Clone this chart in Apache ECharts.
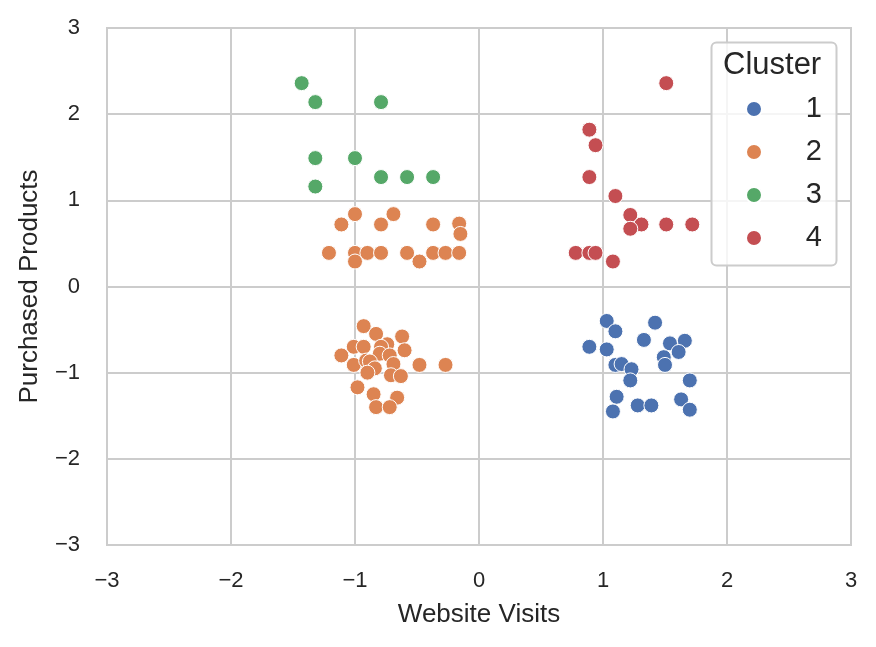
<!DOCTYPE html>
<html>
<head>
<meta charset="utf-8">
<script src="https://cdn.jsdelivr.net/npm/echarts@6/dist/echarts.min.js"></script>
<style>
  html, body { margin: 0; padding: 0; background: #fff; }
  #main { width: 876px; height: 647px; }
</style>
</head>
<body>
<div id="main"></div>
<script>
// cluster points: [website visits, purchased products]
var cluster1 = [
  [1.03, -0.40], [1.42, -0.42], [1.10, -0.52], [1.33, -0.62], [1.54, -0.66],
  [1.66, -0.63], [0.89, -0.70], [1.03, -0.73], [1.61, -0.76], [1.49, -0.82],
  [1.10, -0.91], [1.15, -0.90], [1.23, -0.96], [1.50, -0.91], [1.22, -1.09],
  [1.70, -1.09], [1.11, -1.28], [1.63, -1.31], [1.28, -1.38], [1.39, -1.38],
  [1.08, -1.45], [1.70, -1.43]
];
var cluster2 = [
  [-1.00, 0.84], [-0.69, 0.84], [-1.11, 0.72], [-0.79, 0.72], [-0.37, 0.72],
  [-0.16, 0.73], [-0.15, 0.61], [-1.21, 0.39], [-1.00, 0.39], [-1.00, 0.29],
  [-0.90, 0.39], [-0.79, 0.39], [-0.58, 0.39], [-0.48, 0.29], [-0.37, 0.39],
  [-0.27, 0.39], [-0.16, 0.39],
  [-0.93, -0.46], [-0.83, -0.55], [-0.62, -0.58], [-1.01, -0.70], [-0.93, -0.70],
  [-0.74, -0.67], [-0.79, -0.70], [-0.60, -0.74], [-1.11, -0.80], [-0.80, -0.78],
  [-0.72, -0.80], [-1.01, -0.91], [-0.91, -0.86], [-0.88, -0.87], [-0.84, -0.95],
  [-0.69, -0.90], [-0.48, -0.91], [-0.27, -0.91], [-0.90, -1.00], [-0.71, -1.03],
  [-0.63, -1.04], [-0.98, -1.17], [-0.85, -1.25], [-0.66, -1.29], [-0.83, -1.40],
  [-0.72, -1.40]
];
var cluster3 = [
  [-1.43, 2.36], [-1.32, 2.14], [-0.79, 2.14], [-1.32, 1.49], [-1.00, 1.49],
  [-0.79, 1.27], [-0.58, 1.27], [-0.37, 1.27], [-1.32, 1.16]
];
var cluster4 = [
  [1.51, 2.36], [0.89, 1.82], [0.94, 1.64], [0.89, 1.27], [1.10, 1.05],
  [1.22, 0.83], [1.31, 0.72], [1.22, 0.67], [1.51, 0.72], [1.72, 0.72],
  [0.78, 0.39], [0.89, 0.39], [0.94, 0.39], [1.08, 0.29]
];
var clusterNames = ['1', '2', '3', '4'];
var clusterColors = ['#4C72B0', '#DD8452', '#55A868', '#C44E52'];
var clusterData = [cluster1, cluster2, cluster3, cluster4];
var axisTicks = [-3, -2, -1, 0, 1, 2, 3];

var chart = echarts.init(document.getElementById('main'));
var fontFam = 'Arial, "Liberation Sans", "DejaVu Sans", sans-serif';

function tickFmt(v) {
  return v < 0 ? '\u2212' + Math.abs(v) : String(v);
}

var axisCommon = {
  min: axisTicks[0],
  max: axisTicks[axisTicks.length - 1],
  interval: 1,
  axisLine: { show: true, lineStyle: { color: '#cccccc', width: 2 } },
  axisTick: { show: false },
  splitLine: { show: true, lineStyle: { color: '#cccccc', width: 2 } },
  nameTextStyle: { color: '#262626', fontSize: 26, fontFamily: fontFam },
  axisLabel: { color: '#262626', fontSize: 22, fontFamily: fontFam, formatter: tickFmt }
};

var series = clusterNames.map(function (n, i) {
  return {
    name: n,
    type: 'scatter',
    symbol: 'circle',
    symbolSize: 15,
    itemStyle: { color: clusterColors[i], borderColor: '#ffffff', borderWidth: 1, opacity: 1 },
    data: clusterData[i],
    z: 2
  };
});

chart.setOption({
  animation: false,
  backgroundColor: '#ffffff',
  grid: {
    left: 107, right: 25, top: 28, bottom: 102,
    outerBoundsMode: 'none',
    show: true, borderColor: '#cccccc', borderWidth: 2
  },
  xAxis: Object.assign({}, axisCommon, {
    type: 'value',
    name: 'Website Visits',
    nameLocation: 'middle',
    nameGap: 57,
    axisLabel: Object.assign({}, axisCommon.axisLabel, { margin: 25 })
  }),
  yAxis: Object.assign({}, axisCommon, {
    type: 'value',
    name: 'Purchased Products',
    nameLocation: 'middle',
    nameGap: 64,
    axisLabel: Object.assign({}, axisCommon.axisLabel, { margin: 27 })
  }),
  legend: {
    orient: 'vertical',
    left: 740,
    top: 89,
    itemWidth: 16,
    itemHeight: 16,
    itemGap: 13,
    icon: 'circle',
    z: 20,
    data: clusterNames,
    formatter: function (n) { return '{a|' + n + '}'; },
    textStyle: {
      color: '#262626',
      fontFamily: fontFam,
      rich: { a: { width: 55, height: 30, lineHeight: 30, align: 'right', fontSize: 29, fontFamily: fontFam, color: '#262626' } }
    }
  },
  graphic: [
    {
      type: 'rect',
      shape: { x: 711.5, y: 42.5, width: 125, height: 223, r: 5 },
      style: { fill: 'rgba(255,255,255,0.8)', stroke: '#cccccc', lineWidth: 2 },
      z: 5
    },
    {
      type: 'text',
      left: 723,
      top: 50,
      style: { text: 'Cluster', fontSize: 31, fontFamily: fontFam, fill: '#262626' },
      z: 21
    }
  ],
  series: series
});
</script>
</body>
</html>
